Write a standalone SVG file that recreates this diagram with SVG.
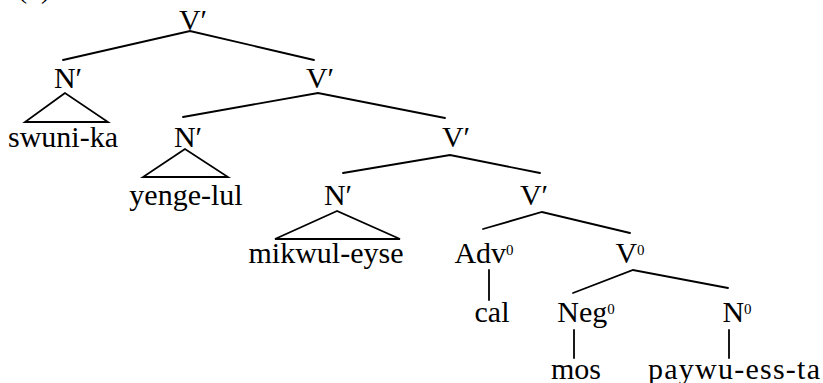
<svg xmlns="http://www.w3.org/2000/svg" width="823" height="383" viewBox="0 0 823 383">
<style>
text{font-family:"Liberation Serif","Times New Roman",serif;font-size:30px;fill:#000;text-anchor:middle}
.sup{font-size:15px}
.e{stroke:#000;stroke-width:1.8;fill:none;stroke-linecap:round;stroke-linejoin:miter}
</style>
<rect width="823" height="383" fill="#fff"/>
<text x="34" y="-2" style="font-size:28px">(1)</text>
<g id="connectors" class="e">
<polyline points="63,60 190,31 314,60"/>
<polygon points="65,93 25,122 108,122"/>
<polyline points="183,117 318,93 445,118"/>
<polygon points="185,149 143,177 228,177"/>
<polyline points="343,173 450,155 540,173"/>
<polygon points="337,211 275,239 400,239"/>
<polyline points="483,229 542,212 630,233"/>
<line x1="489" y1="270" x2="489" y2="300"/>
<polyline points="573,293 633,270 728,288"/>
<line x1="574" y1="330" x2="574" y2="358"/>
<line x1="729" y1="330" x2="729" y2="358"/>
</g>
<g id="n-root"><text x="193" y="30">V′</text></g>
<g id="n-N1"><text x="68" y="88">N′</text></g>
<g id="n-swunika"><text x="63" y="147">swuni-ka</text></g>
<g id="n-V2"><text x="320" y="88">V′</text></g>
<g id="n-N2"><text x="188" y="147">N′</text></g>
<g id="n-yengelul"><text x="186" y="205">yenge-lul</text></g>
<g id="n-V3"><text x="456" y="147">V′</text></g>
<g id="n-N3"><text x="338" y="205">N′</text></g>
<g id="n-mikwuleyse"><text x="326" y="263">mikwul-eyse</text></g>
<g id="n-V4"><text x="534" y="205">V′</text></g>
<g id="n-Adv"><text x="484" y="263">Adv<tspan class="sup" dy="-8">0</tspan></text></g>
<g id="n-cal"><text x="492" y="322">cal</text></g>
<g id="n-V0"><text x="630" y="263">V<tspan class="sup" dy="-8">0</tspan></text></g>
<g id="n-Neg"><text x="586" y="322">Neg<tspan class="sup" dy="-8">0</tspan></text></g>
<g id="n-N0"><text x="737" y="322">N<tspan class="sup" dy="-8">0</tspan></text></g>
<g id="n-mos"><text x="576" y="379">mos</text></g>
<g id="n-paywu"><text x="734" y="379" textLength="172" lengthAdjust="spacing">paywu-ess-ta</text></g>
</svg>
